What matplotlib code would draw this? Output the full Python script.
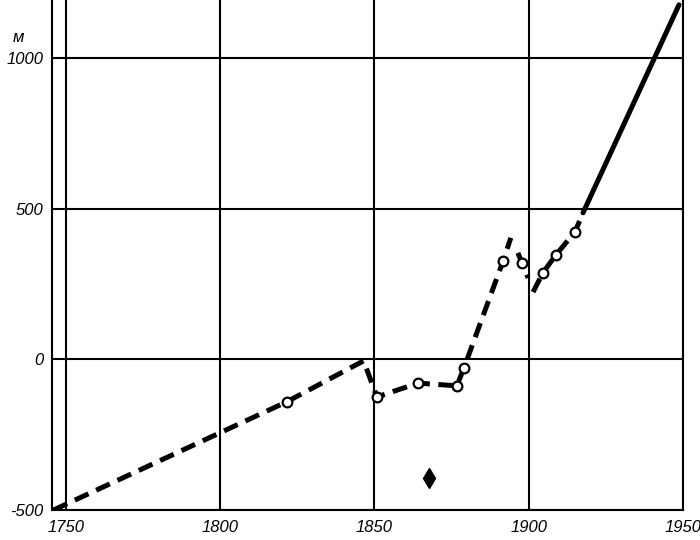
import matplotlib.pyplot as plt

# dashed reconstruction (three pieces with small breaks between them)
dash1_years = [1746, 1821.6, 1846.5, 1850.8, 1864.1, 1876.7, 1879.0, 1891.7, 1894.2]
dash1_vals = [-500, -141, -5, -125, -79, -88, -29, 326, 403]
dash2_years = [1896.5, 1897.8, 1899.8]
dash2_vals = [353, 320, 270]
dash3_years = [1901.4, 1904.6, 1908.8, 1915.0, 1917.6]
dash3_vals = [223, 287, 346, 423, 486]

# solid line (later period)
solid_years = [1917.6, 1948.7]
solid_vals = [486, 1176]

# open circles = observations
obs_years = [1821.6, 1850.8, 1864.1, 1876.7, 1879.0, 1891.7, 1897.8, 1904.6, 1908.8, 1915.0]
obs_vals = [-141, -125, -79, -88, -29, 326, 320, 287, 346, 423]

# single isolated point
odd_years = [1867.7]
odd_vals = [-394]

x_ticks = [1750, 1800, 1850, 1900, 1950]
y_ticks = [-500, 0, 500, 1000]

fnt = {'family': 'Liberation Sans', 'style': 'italic', 'size': 12}

fig = plt.figure(figsize=(7, 5.4), dpi=100)
ax = fig.add_axes([52/700, 30/540, 631/700, 510/540])

ax.set_xlim(1745.5, 1950)
ax.set_ylim(-500, 1192)

# grid
for xv in x_ticks:
    ax.axvline(xv, color='black', lw=1.5, zorder=1)
for yv in y_ticks:
    ax.axhline(yv, color='black', lw=1.5, zorder=1)

for yrs, vals in [(dash1_years, dash1_vals), (dash2_years, dash2_vals), (dash3_years, dash3_vals)]:
    ax.plot(yrs, vals, color='black', lw=3.6, dashes=(3.0, 1.7), dash_capstyle='butt', zorder=3)
ax.plot(solid_years, solid_vals, color='black', lw=3.6, solid_capstyle='round', zorder=3)

ax.plot(obs_years, obs_vals, 'o', ms=7, mfc='white', mec='black', mew=1.6, zorder=4)
ax.plot(odd_years, odd_vals, 'd', ms=10, color='black', zorder=4)

ax.set_xticks(x_ticks)
ax.set_xticklabels([str(v) for v in x_ticks], fontdict=fnt)
ax.set_yticks(y_ticks)
ax.set_yticklabels([str(v) for v in y_ticks], fontdict=fnt)
ax.tick_params(length=0)
ax.tick_params(axis='x', pad=7)
ax.tick_params(axis='y', pad=6)

ax.spines['top'].set_visible(False)
for s in ['left', 'bottom', 'right']:
    ax.spines[s].set_linewidth(1.5)

fig.text(18/700, 1 - 37/540, 'м', ha='center', va='center', **fnt)

fig.savefig('out.png', dpi=100)
